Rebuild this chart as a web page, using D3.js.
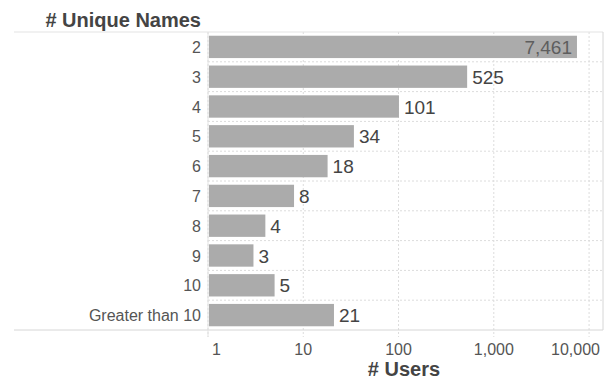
<!DOCTYPE html>
<html><head><meta charset="utf-8">
<script src="https://cdn.jsdelivr.net/npm/d3@7"></script>
<style>body{margin:0;background:#fff}svg{display:block}text{font-family:"Liberation Sans",Arial,sans-serif}</style>
</head><body><svg id="c" width="610" height="379"></svg>
<script>
const categories = ["2","3","4","5","6","7","8","9","10","Greater than 10"];
const users = [7461,525,101,34,18,8,4,3,5,21];
const tickValues = [1,10,100,1000,10000];
const tickLabels = ["1","10","100","1,000","10,000"];

const svg = d3.select("#c");
const L = 208, R = 603, T = 32, B = 330;
const x = d3.scaleLog().domain([1, 14000]).range([L, R]);
const y = d3.scaleBand().domain(categories).range([T, B]).paddingInner(0.25).paddingOuter(0.125);
const grid = "#dcdcdc";

// vertical dashed gridlines
svg.append("g").selectAll("line").data(tickValues).join("line")
  .attr("x1", d => x(d)).attr("x2", d => x(d)).attr("y1", T).attr("y2", B + 7)
  .attr("stroke", grid).attr("stroke-dasharray", "2,2");
// horizontal dashed row separators
svg.append("g").selectAll("line").data(categories.slice(1)).join("line")
  .attr("x1", L).attr("x2", R)
  .attr("y1", d => y(d) - y.step()*y.paddingInner()/2).attr("y2", d => y(d) - y.step()*y.paddingInner()/2)
  .attr("stroke", grid).attr("stroke-dasharray", "2,2");
// frame lines
svg.append("line").attr("x1", 14).attr("x2", R).attr("y1", T).attr("y2", T).attr("stroke", "#e3e3e3");
svg.append("line").attr("x1", 14).attr("x2", R).attr("y1", B).attr("y2", B).attr("stroke", "#d6d6d6");
svg.append("line").attr("x1", R).attr("x2", R).attr("y1", T).attr("y2", B).attr("stroke", "#d6d6d6");
svg.append("line").attr("x1", L).attr("x2", L).attr("y1", T).attr("y2", B + 7).attr("stroke", "#e3e3e3");

// bars
svg.append("g").selectAll("rect").data(users).join("rect")
  .attr("x", L + 1).attr("y", (d, i) => y(categories[i]))
  .attr("width", d => x(d) - L - 1).attr("height", y.bandwidth())
  .attr("fill", "#ababab");

// value labels
svg.append("g").selectAll("text").data(users).join("text")
  .attr("x", d => d > 5000 ? x(d) - 5 : x(d) + 5)
  .attr("y", (d, i) => y(categories[i]) + y.bandwidth()/2 + 7)
  .attr("text-anchor", d => d > 5000 ? "end" : "start")
  .attr("fill", d => d > 5000 ? "#5e5e5e" : "#444")
  .attr("font-size", 19)
  .text(d => d3.format(",")(d));

// category labels
svg.append("g").selectAll("text").data(categories).join("text")
  .attr("x", L - 7).attr("y", d => y(d) + y.bandwidth()/2 + 6)
  .attr("text-anchor", "end").attr("font-size", 16).attr("fill", "#555")
  .text(d => d);

// x tick labels
const last = tickValues.length - 1;
svg.append("g").selectAll("text").data(tickValues).join("text")
  .attr("x", (d, i) => i === 0 ? x(d) + 4 : i === last ? R - 3 : x(d))
  .attr("y", 355)
  .attr("text-anchor", (d, i) => i === 0 ? "start" : i === last ? "end" : "middle")
  .attr("font-size", 16).attr("fill", "#555")
  .text((d, i) => tickLabels[i]);

// titles
svg.append("text").attr("x", 201).attr("y", 27).attr("text-anchor", "end")
  .attr("font-size", 20).attr("font-weight", "bold").attr("fill", "#444").text("# Unique Names");
svg.append("text").attr("x", 404).attr("y", 376).attr("text-anchor", "middle")
  .attr("font-size", 20).attr("font-weight", "bold").attr("fill", "#444").text("# Users");
</script></body></html>
